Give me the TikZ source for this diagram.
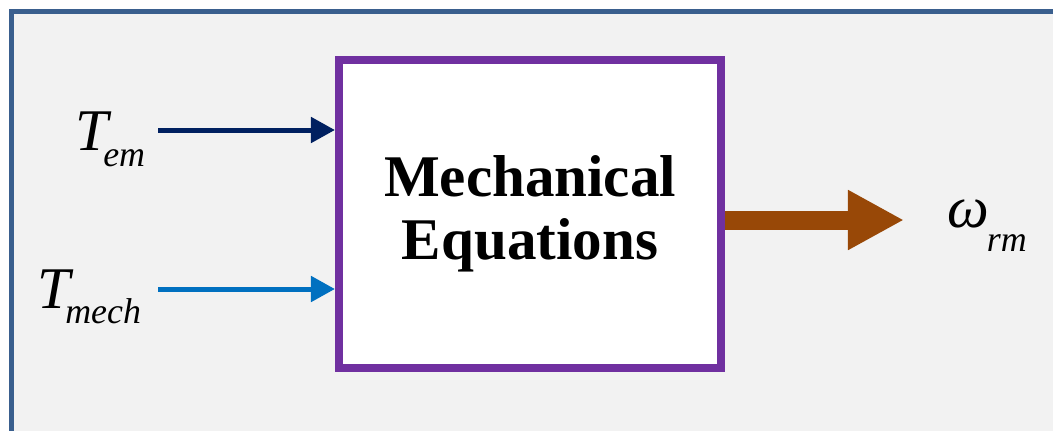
\documentclass[tikz,border=0pt]{standalone}
\usepackage{fontspec}
\setmainfont{Liberation Serif}
\usetikzlibrary{arrows.meta,positioning}
\definecolor{framecol}{HTML}{3A5F8E}
\definecolor{panelcol}{HTML}{F2F2F2}
\definecolor{blockcol}{HTML}{7030A0}
\definecolor{temcol}{HTML}{002060}
\definecolor{tmechcol}{HTML}{0070C0}
\definecolor{omegacol}{HTML}{984807}
% variable with an italic subscript: symbol, subscript, drop
\newcommand{\sigvar}[3]{{\fontsize{42}{42}\selectfont\itshape #1}%
  \raisebox{-#3}{\fontsize{25.5}{25.5}\selectfont\itshape #2}}
\tikzset{
  block/.style={draw=blockcol, fill=white, line width=0.2cm,
                minimum width=9.55cm, minimum height=7.7cm, align=center,
                font=\fontsize{42}{44.8}\selectfont\bfseries},
  inarrow/.style={-{Triangle[length=0.6cm,width=0.625cm]}, line width=0.125cm},
  outarrow/.style={-{Triangle[length=1.4cm,width=1.4cm]}, line width=0.475cm,
                   draw=omegacol},
  sig/.style={inner sep=0pt, anchor=base west},
}
\begin{document}
\begin{tikzpicture}[x=0.025cm, y=-0.025cm]

\useasboundingbox (0,0) rectangle (1053,430);
\clip (0,0) rectangle (1053,430);

% panel
\fill[white] (0,0) rectangle (1053,430);
\draw[framecol, line width=0.13cm, fill=panelcol]
  (11.5,460) -- (11.5,11.5) -- (1080,11.5) -- (1080,460) -- cycle;

% block
\node[block] (mech) at (530,214) {Mechanical\\Equations};

% signals
\node[sig] (tem) at (75,150) {\sigvar{T}{\kern-0.12cm em}{0.4cm}};
\node[sig] (tmech) at (37,308) {\sigvar{T}{\kern-0.12cm mech}{0.375cm}};
\node[sig] (omega) at (947,227) {\sigvar{ω}{\kern-0.05cm rm}{0.6cm}};

\coordinate (tem-s) at (158,130);
\coordinate (tmech-s) at (158,289);
\coordinate (omega-e) at (904,220);

\draw[inarrow, temcol] (tem-s) -- (tem-s -| mech.west);
\draw[inarrow, tmechcol] (tmech-s) -- (tmech-s -| mech.west);
\draw[outarrow] (mech.east |- omega-e) -- (omega-e);

\end{tikzpicture}
\end{document}
